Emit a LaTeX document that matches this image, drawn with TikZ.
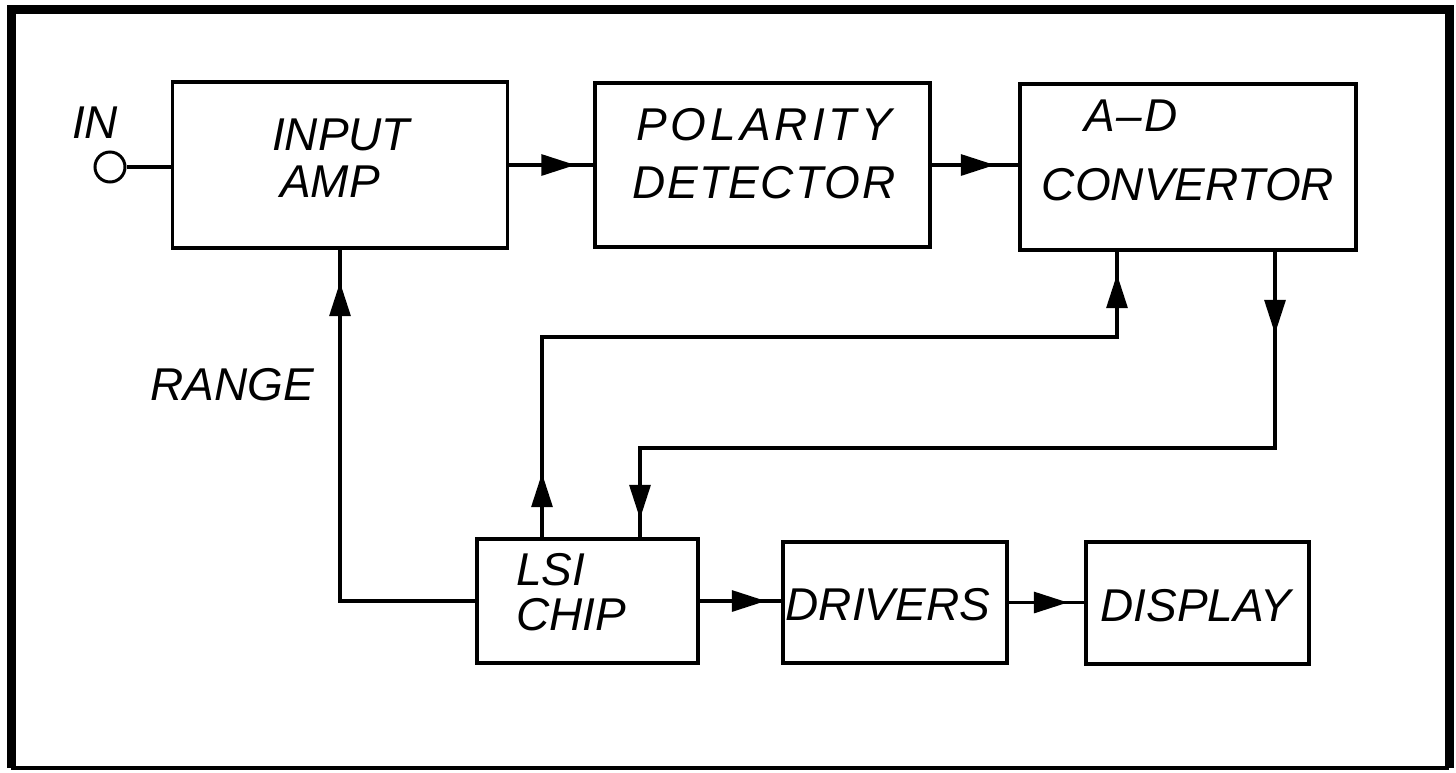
\documentclass[tikz,border=0pt]{standalone}
\usepackage{fontspec}
\newfontfamily\lblfont[Ligatures=TeX]{Liberation Sans}
\usetikzlibrary{arrows.meta,decorations.markings}
\tikzset{
  box/.style={draw, line width=1.8pt, inner sep=0pt},
  lbl/.style={inner sep=0pt, font=\lblfont\itshape\fontsize{23}{24}\selectfont},
  conn/.style={line width=1.6pt},
  arr/.style={postaction={decorate}, decoration={markings,
     mark=at position #1 with {\arrow{Triangle[length=17pt,width=10.5pt]}}}},
  arrtwo/.style 2 args={postaction={decorate}, decoration={markings,
     mark=at position #1 with {\arrow{Triangle[length=17pt,width=10.5pt]}},
     mark=at position #2 with {\arrow{Triangle[length=17pt,width=10.5pt]}}}}
}
\newcommand{\ls}{\kern2pt}
\newcommand{\lt}{\kern0.7pt}
\begin{document}
\begin{tikzpicture}[x=0.5pt,y=-0.5pt]
\useasboundingbox (0,0) rectangle (1456,772);
% frame
\draw[line width=4.5pt] (11,768) -- (11,9) -- (1449,9) -- (1449,768);
\draw[line width=1.6pt] (11,768) -- (1449,768);
% boxes
\node[box, minimum width=167.5pt, minimum height=83pt] (amp) at (340,165) {};
\node[box, minimum width=167.5pt, minimum height=82pt] (pol) at (762.5,165) {};
\node[box, minimum width=168pt, minimum height=83pt] (adc) at (1188,167) {};
\node[box, minimum width=110.5pt, minimum height=62pt] (lsi) at (587.5,601) {};
\node[box, minimum width=112pt, minimum height=60.5pt] (drv) at (895,602.5) {};
\node[box, minimum width=111.5pt, minimum height=61pt] (dsp) at (1197.5,603) {};
% texts
\node[lbl] (inl) at (95,123) {IN};
\node[lbl] (amp1) at (341,135) {INPUT};
\node[lbl] (amp2) at (330,182) {AMP};
\node[lbl] (pol1) at (764,125) {P\ls O\ls L\ls A\ls R\ls I\ls T\ls Y};
\node[lbl] (pol2) at (764,183) {D\lt E\lt T\lt E\lt C\lt T\lt O\lt R};
\node[lbl] (adc1) at (1131,116) {A\kern1pt--\kern1pt D};
\node[lbl] (adc2) at (1188,185) {CONVERTOR};
\node[lbl, anchor=west] (lsi1) at (516,570) {LSI};
\node[lbl, anchor=west] (lsi2) at (516,615) {CHIP};
\node[lbl] (drv1) at (888,605) {DRIVERS};
\node[lbl] (dsp1) at (1196,606) {DISPLAY};
\node[lbl] (rng) at (232,385) {RANGE};
% input terminal
\node[draw, circle, line width=1.5pt, minimum size=15pt, inner sep=0pt] (in) at (110,167) {};
\draw[conn] (in.east) -- (in.east -| amp.west);
% main chain
\draw[conn, arr=33pt] (amp.east) -- (pol.west);
\draw[conn, arr=31.5pt] (pol.east) -- (pol.east -| adc.west);
\draw[conn, arr=33pt] (lsi.east) -- (lsi.east -| drv.west);
\draw[conn, arr=29.5pt] (drv.east) -- (drv.east -| dsp.west);
% range feedback
\coordinate (r1) at (340,601);
\draw[conn, arr=227pt] (lsi.west) -- (r1) -- (amp.south);
% lsi to adc
\coordinate (b1) at (542,337);
\coordinate (b2) at (1117,337);
\draw[conn, arrtwo={32pt}{419pt}] (lsi.north -| b1) -- (b1) -- (b2) -- (adc.south -| b2);
% adc to lsi
\coordinate (c1) at (1275,448);
\coordinate (c2) at (640,448);
\draw[conn, arrtwo={41pt}{451pt}] (adc.south -| c1) -- (c1) -- (c2) -- (lsi.north -| c2);
\end{tikzpicture}
\end{document}
